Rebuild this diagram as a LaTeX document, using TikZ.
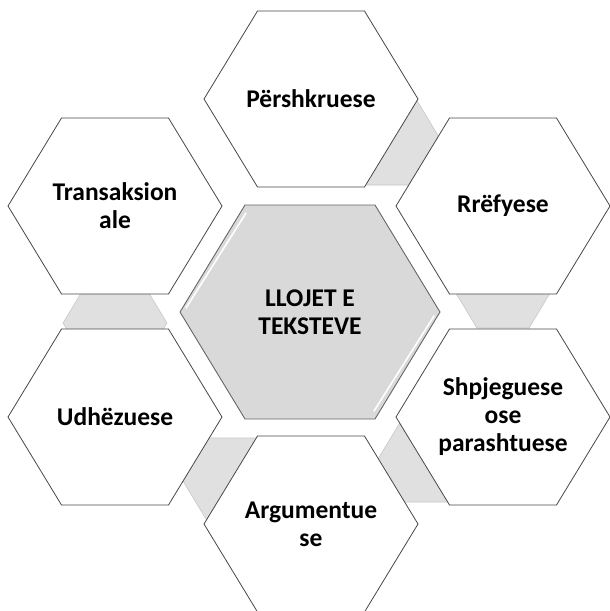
\documentclass[tikz,border=0pt]{standalone}
\usepackage{fontspec}
\setmainfont{Carlito}

% hexagon with flat top: [style]{centre}{half width}{half height}
\newcommand{\drawhex}[4][]{%
  \draw[#1] (#2) +(-#3,0) -- +(-#3/2,-#4) -- +(#3/2,-#4) -- +(#3,0)
    -- +(#3/2,#4) -- +(-#3/2,#4) -- cycle;}

\tikzset{
  joinhex/.style={fill=black!12, draw=black!22, line width=0.6pt},
  outerhex/.style={fill=white, draw=black!72, line width=0.8pt},
  centerhex/.style={fill=black!15, draw=black!60, line width=0.9pt},
  hextext/.style={font=\bfseries\fontsize{25.5}{28}\selectfont, align=center, inner sep=0pt}
}

\begin{document}
\begin{tikzpicture}[x=1pt,y=-1pt]
  \useasboundingbox (0,0) rectangle (610,611);

  % centres
  \coordinate (cc) at (310,312);
  \coordinate (c1) at (311,99);
  \coordinate (c2) at (503,206);
  \coordinate (c3) at (503,417);
  \coordinate (c4) at (311,524);
  \coordinate (c5) at (115,417);
  \coordinate (c6) at (115,206);

  % small hexagons between neighbours
  \coordinate (j12) at (390,142);
  \coordinate (j23) at (503,285);
  \coordinate (j34) at (430,459);
  \coordinate (j45) at (235,481);
  \coordinate (j56) at (115,323);
  \foreach \j in {j12,j23,j34,j45,j56}{
    \drawhex[joinhex]{\j}{52}{43}
  }

  % outer hexagons
  \foreach \c in {c1,c2,c3,c4,c5,c6}{
    \drawhex[outerhex]{\c}{107}{88}
  }

  % middle hexagon
  \drawhex[centerhex]{cc}{130}{107}
  \draw[white, line width=1.6pt, line cap=round] (cc) +(-124,-4) -- +(-64,-99);
  \draw[white, line width=1.6pt, line cap=round] (cc) +(124,4) -- +(64,99);

  % texts
  \node[hextext] (llojet) at (cc) {LLOJET E\\TEKSTEVE};
  \node[hextext] (pershkr) at (c1) {Përshkruese};
  \node[hextext] (rrefy) at (c2) {Rrëfyese};
  \node[hextext] (shpjeg) at (c3) {Shpjeguese\\ose\\parashtuese};
  \node[hextext] (argum) at (c4) {Argumentue\\se};
  \node[hextext] (udhez) at (c5) {Udhëzuese};
  \node[hextext] (trans) at (c6) {Transaksion\\ale};
\end{tikzpicture}
\end{document}
